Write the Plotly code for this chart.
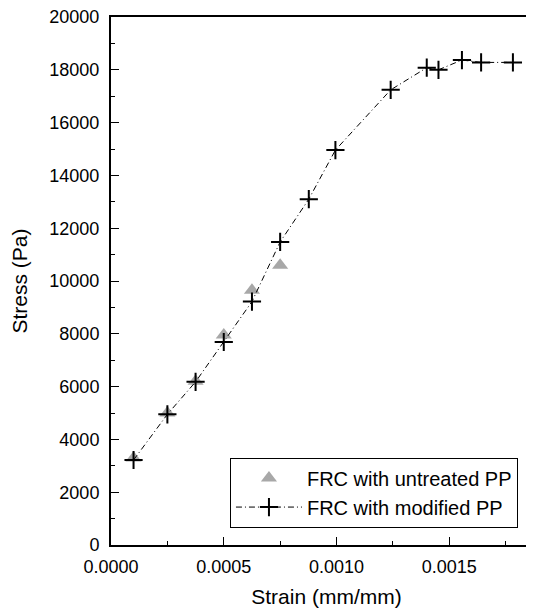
import plotly.graph_objects as go

# Data
untreated_strain = [0.000100, 0.000250, 0.000375, 0.000500, 0.000625, 0.000750]
untreated_stress = [3300, 5000, 6200, 7950, 9650, 10600]

modified_strain = [0.000100, 0.000250, 0.000375, 0.000500, 0.000625, 0.000750,
                   0.000877, 0.000995, 0.001240, 0.001400, 0.001452, 0.001556,
                   0.001641, 0.001782]
modified_stress = [3220, 4950, 6180, 7690, 9220, 11480, 13100, 14960,
                   17240, 18080, 18000, 18370, 18280, 18280]

x_tickvals = [0.0, 0.0005, 0.0010, 0.0015]
x_ticktext = ["0.0000", "0.0005", "0.0010", "0.0015"]
y_tickvals = [0, 2000, 4000, 6000, 8000, 10000, 12000, 14000, 16000, 18000, 20000]
y_ticktext = [str(v) for v in y_tickvals]

FONT = "Arial, 'Liberation Sans', sans-serif"

fig = go.Figure()
fig.add_trace(go.Scatter(
    x=untreated_strain, y=untreated_stress, mode="markers",
    name="FRC with untreated PP",
    marker=dict(symbol="triangle-up", size=14, color="#a8a8a8",
                line=dict(width=0)),
))
fig.add_trace(go.Scatter(
    x=modified_strain, y=modified_stress, mode="lines+markers",
    name="FRC with modified PP",
    line=dict(color="black", width=1, dash="6px,3px,1px,3px"),
    marker=dict(symbol="cross-thin", size=13, color="black",
                line=dict(width=2, color="black")),
))

fig.update_layout(
    width=534, height=607,
    margin=dict(l=103, r=0, t=9, b=70),
    paper_bgcolor="white", plot_bgcolor="white",
    font=dict(family=FONT, size=18, color="black"),
    showlegend=True,
    legend=dict(
        x=0.276, y=0.033, xanchor="left", yanchor="bottom",
        bordercolor="black", borderwidth=1, bgcolor="white",
        font=dict(family=FONT, size=20, color="black"),
        itemwidth=66,
    ),
    xaxis=dict(
        range=[0, 0.001911], tickvals=x_tickvals, ticktext=x_ticktext,
        ticks="inside", ticklen=8, tickwidth=1, tickcolor="black",
        minor=dict(dtick=0.00025, tick0=0, ticks="inside", ticklen=4,
                   tickcolor="black"),
        showline=True, linecolor="black", linewidth=2, mirror=True,
        showgrid=False, zeroline=False, automargin=False,
        title=dict(text="Strain (mm/mm)", font=dict(size=21), standoff=14),
        tickfont=dict(size=18),
        ticklabelstandoff=4,
        ticklabeloverflow="allow",
    ),
    yaxis=dict(
        range=[0, 20000], tickvals=y_tickvals, ticktext=y_ticktext,
        ticks="inside", ticklen=8, tickwidth=1, tickcolor="black",
        minor=dict(dtick=1000, tick0=0, ticks="inside", ticklen=4,
                   tickcolor="black"),
        showline=True, linecolor="black", linewidth=2, mirror=False,
        showgrid=False, zeroline=False, automargin=False,
        title=dict(text="Stress (Pa)", font=dict(size=21), standoff=16),
        tickfont=dict(size=18),
        ticklabelstandoff=6,
        ticklabeloverflow="allow",
    ),
)

fig.write_html("out.html")
